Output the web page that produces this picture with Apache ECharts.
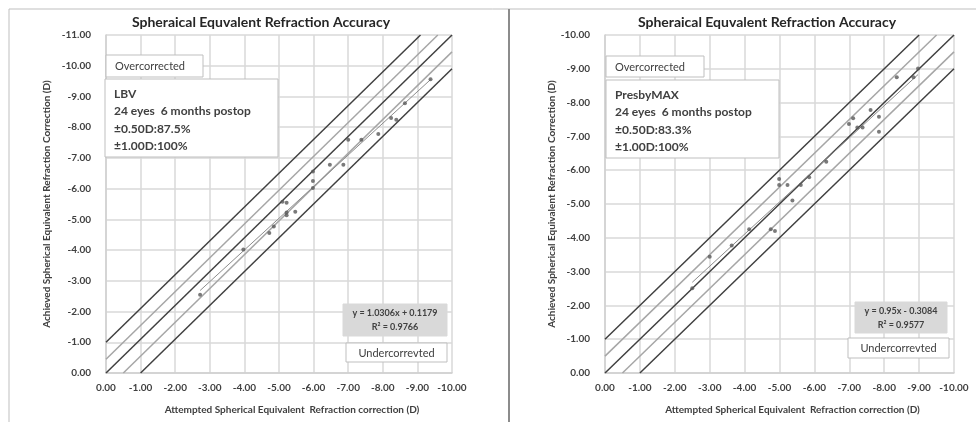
<!DOCTYPE html>
<html>
<head>
<meta charset="utf-8">
<script src="https://cdn.jsdelivr.net/npm/echarts@6/dist/echarts.min.js"></script>
<style>
  html, body { margin: 0; padding: 0; background: #fff; }
  #chart { width: 976px; height: 422px; }
</style>
</head>
<body>
<div id="chart"></div>
<script>
// values (attempted, achieved), diopters
var lbvAttempted = [-2.72, -3.97, -4.72, -4.85, -5.10, -5.22, -5.22, -5.22, -5.47, -5.98, -5.98, -5.98, -6.47, -6.86, -7.00, -7.38, -7.87, -8.24, -8.39, -8.64, -9.38]
var lbvAchieved = [-2.55, -4.02, -4.56, -4.77, -5.57, -5.54, -5.13, -5.22, -5.25, -6.56, -6.25, -6.02, -6.78, -6.78, -7.59, -7.59, -7.78, -8.30, -8.24, -8.78, -9.56]
var pmAttempted = [-2.50, -3.00, -3.63, -4.13, -4.75, -4.87, -4.99, -4.99, -5.23, -5.37, -5.61, -5.85, -6.34, -6.99, -7.11, -7.23, -7.38, -7.61, -7.85, -7.85, -8.36, -8.84, -8.97]
var pmAchieved = [-2.51, -3.44, -3.77, -4.25, -4.25, -4.20, -5.74, -5.56, -5.56, -5.10, -5.56, -5.79, -6.25, -7.37, -7.54, -7.26, -7.26, -7.78, -7.58, -7.14, -8.75, -8.75, -9.01]

// trendlines (slope, intercept) and x range they cover
var lbvTrend = [1.0306, 0.1179]
var lbvTrendRange = [-2.72, -9.38]
var pmTrend = [0.95, -0.3084]
var pmTrendRange = [-2.50, -8.97]

// reference band lines as [x0, y0, x1, y1] in data units
var lbvDarkLines = [[0, -1, -9.09, -11], [0, 0, -10, -11], [-1, 0, -10, -9.9]]
var lbvGrayLines = [[0, -0.45, -9.59, -11], [-0.5, 0, -10, -10.45]]
var pmDarkLines = [[0, -1, -9, -10], [0, 0, -10, -10], [-1, 0, -10, -9]]
var pmGrayLines = [[0, -0.5, -9.5, -10], [-0.5, 0, -10, -9.5]]

var titleText = 'Spheraical Equvalent Refraction Accuracy'
var xName = 'Attempted Spherical Equivalent  Refraction correction (D)'
var yName = 'Achieved Spherical Equivalent Refraction Correction (D)'
var lbvInfo = ['LBV', '24 eyes  6 months postop', '\u00b10.50D:87.5%', '\u00b11.00D:100%']
var pmInfo = ['PresbyMAX', '24 eyes  6 months postop', '\u00b10.50D:83.3%', '\u00b11.00D:100%']
var lbvEq = ['y = 1.0306x + 0.1179', 'R\u00b2 = 0.9766']
var pmEq = ['y = 0.95x - 0.3084', 'R\u00b2 = 0.9577']

var FONT = 'Lato, "Open Sans", sans-serif'

function zip (xs, ys) {
  return xs.map(function (x, i) { return [x, ys[i]] })
}

function lineSeries (segs, idx, color) {
  return segs.map(function (s) {
    return {
      type: 'line', xAxisIndex: idx, yAxisIndex: idx, silent: true,
      showSymbol: false, symbol: 'none', z: 3,
      lineStyle: { color: color, width: 1.5 },
      data: [[s[0], s[1]], [s[2], s[3]]]
    }
  })
}

function trendSeries (t, r, idx) {
  return {
    type: 'line', xAxisIndex: idx, yAxisIndex: idx, silent: true,
    showSymbol: false, symbol: 'none', z: 4,
    lineStyle: { color: '#8c8c8c', width: 1 },
    data: [[r[0], t[0] * r[0] + t[1]], [r[1], t[0] * r[1] + t[1]]]
  }
}

function xAxisFor (idx) {
  return {
    gridIndex: idx, type: 'value', min: -10, max: 0, interval: 1, inverse: true,
    name: xName, nameLocation: 'middle', nameGap: 32,
    nameTextStyle: { fontFamily: FONT, fontSize: 10, fontWeight: 'bold', color: '#404040', padding: [0, 0, 0, 26] },
    axisLine: { show: true, lineStyle: { color: '#d0d0d0', width: 1.5 } },
    axisTick: { show: false },
    axisLabel: { margin: 10, fontFamily: FONT, fontSize: 10, fontWeight: 'bold', color: '#404040',
      formatter: function (v) { return v.toFixed(2) } },
    splitLine: { show: true, lineStyle: { color: '#d9d9d9', width: 1.5 } }
  }
}

function yAxisFor (idx, min, gap) {
  return {
    gridIndex: idx, type: 'value', min: min, max: 0, interval: 1, inverse: true,
    name: yName, nameLocation: 'middle', nameGap: gap, nameRotate: 90,
    nameTextStyle: { fontFamily: FONT, fontSize: 10, fontWeight: 'bold', color: '#404040' },
    axisLine: { show: true, lineStyle: { color: '#d0d0d0', width: 1.5 } },
    axisTick: { show: false },
    axisLabel: { margin: 15, fontFamily: FONT, fontSize: 10, fontWeight: 'bold', color: '#404040',
      formatter: function (v) { return v.toFixed(2) } },
    splitLine: { show: true, lineStyle: { color: '#d9d9d9', width: 1.5 } }
  }
}

// simple text box annotation
function box (x, y, w, h, fill, stroke, lines, opt) {
  var children = [{
    type: 'rect', z: 100, shape: { x: 0, y: 0, width: w, height: h },
    style: { fill: fill, stroke: stroke, lineWidth: 1 }
  }]
  lines.forEach(function (t, i) {
    children.push({
      type: 'text', z: 101,
      x: opt.align === 'center' ? w / 2 : opt.pad,
      y: opt.top + i * opt.lh,
      style: {
        text: t, fill: '#404040', font: opt.font,
        textAlign: opt.align, textVerticalAlign: 'middle'
      }
    })
  })
  return { type: 'group', x: x, y: y, z: 100, children: children }
}

var chart = echarts.init(document.getElementById('chart'))
var series = []
  .concat(lineSeries(lbvGrayLines, 0, '#a6a6a6'))
  .concat(lineSeries(lbvDarkLines, 0, '#404040'))
  .concat(lineSeries(pmGrayLines, 1, '#a6a6a6'))
  .concat(lineSeries(pmDarkLines, 1, '#404040'))
series.push(trendSeries(lbvTrend, lbvTrendRange, 0))
series.push(trendSeries(pmTrend, pmTrendRange, 1))
series.push({
  type: 'scatter', xAxisIndex: 0, yAxisIndex: 0, symbolSize: 4, z: 5,
  itemStyle: { color: '#595959' }, data: zip(lbvAttempted, lbvAchieved)
})
series.push({
  type: 'scatter', xAxisIndex: 1, yAxisIndex: 1, symbolSize: 4, z: 5,
  itemStyle: { color: '#595959' }, data: zip(pmAttempted, pmAchieved)
})

var infoOpt = { pad: 9, top: 15, lh: 17.5, align: 'left', font: 'bold 12px ' + FONT }
var ovOpt = { pad: 9, top: 11, lh: 0, align: 'left', font: '11px ' + FONT }
var eqOpt = { top: 9, lh: 14, align: 'center', font: 'bold 9px ' + FONT }
var unOpt = { top: 10, lh: 0, align: 'center', font: '11px ' + FONT }

chart.setOption({
  animation: false,
  backgroundColor: '#fff',
  title: [
    { text: titleText, left: 261, top: 15, textAlign: 'center', padding: 0,
      textStyle: { fontFamily: FONT, fontSize: 14, fontWeight: 'bold', color: '#262626' } },
    { text: titleText, left: 767, top: 15, textAlign: 'center', padding: 0,
      textStyle: { fontFamily: FONT, fontSize: 14, fontWeight: 'bold', color: '#262626' } }
  ],
  grid: [
    { left: 106, right: 524, top: 35, bottom: 49 },
    { left: 605, right: 22, top: 35, bottom: 49 }
  ],
  xAxis: [xAxisFor(0), xAxisFor(1)],
  yAxis: [yAxisFor(0, -11, 54), yAxisFor(1, -10, 48)],
  series: series,
  graphic: [
    { type: 'line', shape: { x1: 9, y1: 9, x2: 976, y2: 9 }, style: { stroke: '#bfbfbf', lineWidth: 1 } },
    { type: 'line', shape: { x1: 9, y1: 9, x2: 9, y2: 422 }, style: { stroke: '#bfbfbf', lineWidth: 1 } },
    { type: 'line', shape: { x1: 509, y1: 9, x2: 509, y2: 422 }, style: { stroke: '#8c8c8c', lineWidth: 2 } },
    box(106, 55, 97, 22, '#fff', '#bfbfbf', ['Overcorrected'], ovOpt),
    box(105, 79, 173, 78, '#fff', '#bfbfbf', lbvInfo, infoOpt),
    box(343, 304, 104, 32, '#d9d9d9', '#d9d9d9', lbvEq, eqOpt),
    box(346, 343, 101, 19, '#fff', '#bfbfbf', ['Undercorrevted'], unOpt),
    box(606, 56, 98, 21, '#fff', '#bfbfbf', ['Overcorrected'], ovOpt),
    box(606, 80, 173, 78, '#fff', '#bfbfbf', pmInfo, infoOpt),
    box(855, 302, 92, 31, '#d9d9d9', '#d9d9d9', pmEq, eqOpt),
    box(848, 338, 101, 20, '#fff', '#bfbfbf', ['Undercorrevted'], unOpt)
  ]
})
</script>
</body>
</html>
